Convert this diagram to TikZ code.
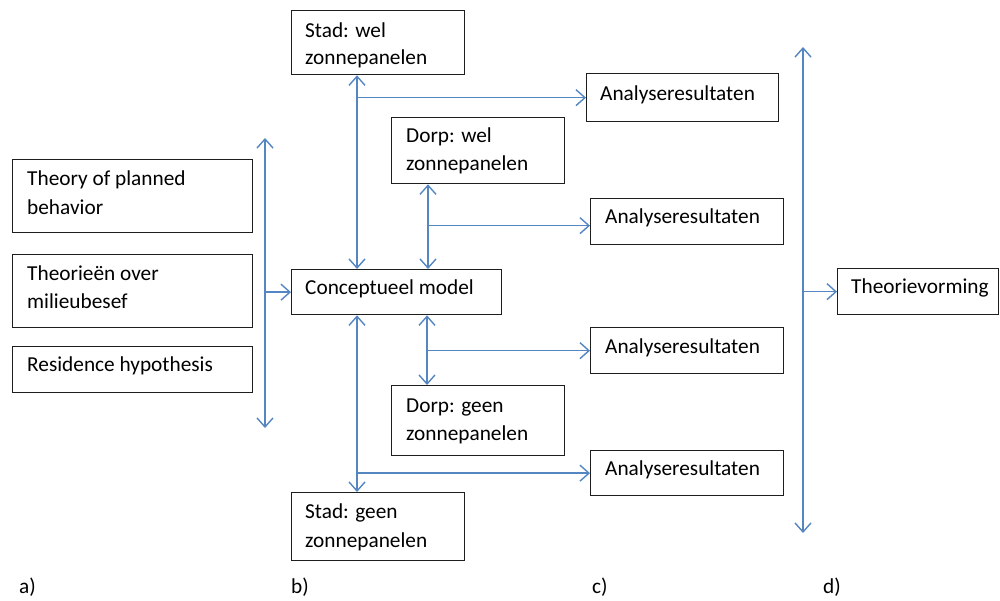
\documentclass[tikz,border=0pt]{standalone}
\usepackage{fontspec}
\setmainfont{Carlito}
\usetikzlibrary{arrows.meta}
\definecolor{flowblue}{RGB}{84,134,194}
\definecolor{boxline}{RGB}{30,30,30}
\newcommand{\diafont}{\fontsize{21.3}{27}\selectfont}
\tikzset{
  box/.style={draw=boxline, line width=1.3pt, inner sep=0pt, anchor=north west},
  txt/.style={anchor=base west, inner sep=0pt, font=\diafont},
  tip/.tip={Straight Barb[length=9pt,width=16pt,line width=1.4pt]},
  flow/.style={draw=flowblue, line width=1.6pt, -tip},
  biflow/.style={draw=flowblue, line width=1.6pt, tip-tip},
}
\begin{document}
\begin{tikzpicture}[x=1pt,y=-1pt]
\useasboundingbox (0,0) rectangle (1000,600);

% theory boxes (column a)
\node[box, minimum width=240pt, minimum height=73pt] (l1) at (12,159) {};
\node[txt] at ([shift={(15pt,-26pt)}]l1.north west) {Theory of planned};
\node[txt] at ([shift={(15pt,-55pt)}]l1.north west) {behavior};
\node[box, minimum width=240pt, minimum height=73pt] (l2) at (12,254) {};
\node[txt] at ([shift={(15pt,-26pt)}]l2.north west) {Theorieën over};
\node[txt] at ([shift={(15pt,-54pt)}]l2.north west) {milieubesef};
\node[box, minimum width=240pt, minimum height=46pt] (l3) at (12,346) {};
\node[txt] at ([shift={(15pt,-25pt)}]l3.north west) {Residence hypothesis};

% model and cases (column b)
\node[box, minimum width=210pt, minimum height=45pt] (cm) at (291,269) {};
\node[txt] at ([shift={(14pt,-25pt)}]cm.north west) {Conceptueel model};
\node[box, minimum width=173pt, minimum height=64pt] (sw) at (291,10) {};
\node[txt] at ([shift={(14pt,-27pt)}]sw.north west) {Stad: wel};
\node[txt] at ([shift={(14pt,-54pt)}]sw.north west) {zonnepanelen};
\node[box, minimum width=173pt, minimum height=66pt] (dw) at (391,117) {};
\node[txt] at ([shift={(15pt,-25pt)}]dw.north west) {Dorp: wel};
\node[txt] at ([shift={(15pt,-53pt)}]dw.north west) {zonnepanelen};
\node[box, minimum width=173pt, minimum height=70pt] (dg) at (391,385) {};
\node[txt] at ([shift={(15pt,-27pt)}]dg.north west) {Dorp: geen};
\node[txt] at ([shift={(15pt,-55pt)}]dg.north west) {zonnepanelen};
\node[box, minimum width=173pt, minimum height=68pt] (sg) at (291,492) {};
\node[txt] at ([shift={(14pt,-26pt)}]sg.north west) {Stad: geen};
\node[txt] at ([shift={(14pt,-55pt)}]sg.north west) {zonnepanelen};

% results (column c)
\node[box, minimum width=192pt, minimum height=48pt] (a1) at (586,73) {};
\node[txt] at ([shift={(14pt,-27pt)}]a1.north west) {Analyseresultaten};
\node[box, minimum width=193pt, minimum height=46pt] (a2) at (590,198) {};
\node[txt] at ([shift={(15pt,-25pt)}]a2.north west) {Analyseresultaten};
\node[box, minimum width=193pt, minimum height=46pt] (a3) at (590,327) {};
\node[txt] at ([shift={(15pt,-26pt)}]a3.north west) {Analyseresultaten};
\node[box, minimum width=193pt, minimum height=45pt] (a4) at (590,450) {};
\node[txt] at ([shift={(15pt,-25pt)}]a4.north west) {Analyseresultaten};

% theory building (column d)
\node[box, minimum width=161pt, minimum height=46pt] (tv) at (837,268) {};
\node[txt] at ([shift={(14pt,-25pt)}]tv.north west) {Theorievorming};

% column labels
\node[txt] (la) at (19,593) {a)};
\node[txt] (lb) at (291,593) {b)};
\node[txt] (lc) at (592,593) {c)};
\node[txt] (ld) at (823,593) {d)};

% guide lines
\coordinate (lt) at (265,138);
\coordinate (lbot) at (265,428);
\coordinate (rt) at (803,47);
\coordinate (rbot) at (803,533);
\coordinate (v1) at (357,0);
\coordinate (v2) at (428,0);
\coordinate (v3) at (427,0);
\coordinate (a2in) at ([yshift=-4pt]a2.west);

\draw[biflow] (lt) -- (lbot);
\draw[flow] (lt |- cm.west) -- (cm.west);

\draw[biflow] (v1 |- sw.south) -- (v1 |- cm.north);
\draw[flow] (v1 |- a1.west) -- (a1.west);
\draw[biflow] (v2 |- dw.south) -- (v2 |- cm.north);
\draw[flow] (v2 |- a2in) -- (a2in);
\draw[biflow] (v3 |- cm.south) -- (v3 |- dg.north);
\draw[flow] (v3 |- a3.west) -- (a3.west);
\draw[biflow] (v1 |- cm.south) -- (v1 |- sg.north);
\draw[flow] (v1 |- a4.west) -- (a4.west);

\draw[biflow] (rt) -- (rbot);
\draw[flow] (rt |- tv.west) -- (tv.west);
\end{tikzpicture}
\end{document}
